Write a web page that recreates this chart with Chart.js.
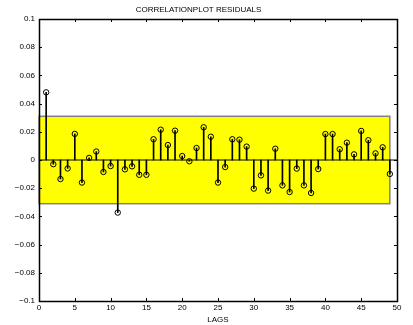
<!DOCTYPE html>
<html>
<head>
<meta charset="utf-8">
<script src="https://cdn.jsdelivr.net/npm/chart.js@4.4.1/dist/chart.umd.min.js"></script>
<style>
  html, body { margin: 0; padding: 0; background: #fff; }
  canvas { display: block; }
</style>
</head>
<body>
<canvas id="chart" width="413" height="325"></canvas>
<script>
// autocorrelation of the residuals, lags 1..49
const lags = [1, 2, 3, 4, 5, 6, 7, 8, 9, 10, 11, 12, 13, 14, 15, 16, 17, 18, 19, 20,
              21, 22, 23, 24, 25, 26, 27, 28, 29, 30, 31, 32, 33, 34, 35, 36, 37, 38, 39, 40,
              41, 42, 43, 44, 45, 46, 47, 48, 49];
const acf = [0.048, -0.003, -0.0135, -0.006, 0.0185, -0.016, 0.0015, 0.006, -0.0085, -0.0043,
             -0.0373, -0.0066, -0.0045, -0.0105, -0.0105, 0.0147, 0.0215, 0.0106, 0.0208, 0.0028,
             -0.0009, 0.0085, 0.0232, 0.0165, -0.016, -0.005, 0.0147, 0.0144, 0.0095, -0.0203,
             -0.0109, -0.0217, 0.008, -0.018, -0.0227, -0.0061, -0.018, -0.0234, -0.0064, 0.0184,
             0.0184, 0.0076, 0.0123, 0.004, 0.0206, 0.014, 0.0047, 0.009, -0.0099];
const bandLimit = 0.031;   // confidence limit
const xTicks = [0, 5, 10, 15, 20, 25, 30, 35, 40, 45, 50];
const yTicks = [-0.1, -0.08, -0.06, -0.04, -0.02, 0, 0.02, 0.04, 0.06, 0.08, 0.1];

const FONT = { family: '"Liberation Sans", Arial, Helvetica, sans-serif', size: 8 };

function fmtY(v) {
  const s = String(parseFloat(v.toFixed(2)));
  return s.replace('-', '\u2212');
}

// yellow confidence band behind the stems
const bandPlugin = {
  id: 'confBand',
  beforeDatasetsDraw(chart) {
    const { ctx, scales: { x, y } } = chart;
    const l = x.getPixelForValue(0), r = x.getPixelForValue(lags.length);
    const t = y.getPixelForValue(bandLimit), b = y.getPixelForValue(-bandLimit);
    ctx.save();
    ctx.fillStyle = '#ffff00';
    ctx.fillRect(l, t, r - l, b - t);
    ctx.strokeStyle = '#808080';
    ctx.lineWidth = 1.5;
    ctx.strokeRect(l, t, r - l, b - t);
    ctx.restore();
  }
};

// box around the axes with inward ticks on all four sides
const boxPlugin = {
  id: 'boxTicks',
  afterDatasetsDraw(chart) {
    const { ctx, chartArea: a, scales: { x, y } } = chart;
    const len = 3;
    ctx.save();
    ctx.strokeStyle = '#000';
    ctx.lineWidth = 1;
    ctx.beginPath();
    x.ticks.forEach(tk => {
      const px = Math.round(x.getPixelForValue(tk.value)) + 0.5;
      ctx.moveTo(px, a.bottom); ctx.lineTo(px, a.bottom - len);
      ctx.moveTo(px, a.top); ctx.lineTo(px, a.top + len);
    });
    y.ticks.forEach(tk => {
      const py = Math.round(y.getPixelForValue(tk.value)) + 0.5;
      ctx.moveTo(a.left, py); ctx.lineTo(a.left + len, py);
      ctx.moveTo(a.right, py); ctx.lineTo(a.right - len, py);
    });
    ctx.stroke();
    ctx.lineWidth = 1.5;
    ctx.strokeRect(Math.round(a.left) + 0.5, Math.round(a.top) + 0.5,
                   Math.round(a.right - a.left), Math.round(a.bottom - a.top));
    ctx.restore();
  }
};

const points = lags.map((l, i) => ({ x: l, y: acf[i] }));

new Chart(document.getElementById('chart'), {
  type: 'bar',
  data: {
    datasets: [
      {
        type: 'scatter',
        data: points,
        pointRadius: 2.7,
        pointHoverRadius: 2.7,
        pointBorderWidth: 1,
        pointBorderColor: '#000',
        pointBackgroundColor: 'rgba(0,0,0,0)',
        showLine: false,
        order: 0
      },
      {
        type: 'bar',
        data: points,
        backgroundColor: '#000',
        barThickness: 1,
        order: 1
      },
      {
        type: 'line',
        data: [{ x: 0, y: 0 }, { x: 50, y: 0 }],
        borderColor: '#000',
        borderWidth: 1,
        pointRadius: 0,
        order: 2
      }
    ]
  },
  options: {
    responsive: false,
    animation: false,
    events: [],
    layout: { padding: { left: 0, right: 16, top: 0, bottom: 0 } },
    plugins: {
      legend: { display: false },
      tooltip: { enabled: false },
      title: {
        display: true,
        text: 'CORRELATIONPLOT RESIDUALS',
        color: '#000',
        font: { ...FONT, weight: 'normal' },
        padding: { top: 5, bottom: 4.4 }
      }
    },
    scales: {
      x: {
        type: 'linear',
        min: 0,
        max: 50,
        offset: false,
        afterBuildTicks: s => { s.ticks = xTicks.map(v => ({ value: v })); },
        afterFit: s => { s.height = 24; },
        grid: { display: false, drawTicks: false, offset: false },
        border: { display: false },
        ticks: { color: '#000', font: FONT, padding: 2, maxRotation: 0, autoSkip: false },
        title: { display: true, text: 'LAGS', color: '#000', font: FONT, padding: { top: 0, bottom: 0 } }
      },
      y: {
        type: 'linear',
        min: -0.1,
        max: 0.1,
        afterBuildTicks: s => { s.ticks = yTicks.map(v => ({ value: v })); },
        afterFit: s => { s.width = 39; },
        grid: { display: false, drawTicks: false },
        border: { display: false },
        ticks: { color: '#000', font: FONT, padding: 4, autoSkip: false, callback: v => fmtY(v) }
      }
    }
  },
  plugins: [bandPlugin, boxPlugin]
});
</script>
</body>
</html>
